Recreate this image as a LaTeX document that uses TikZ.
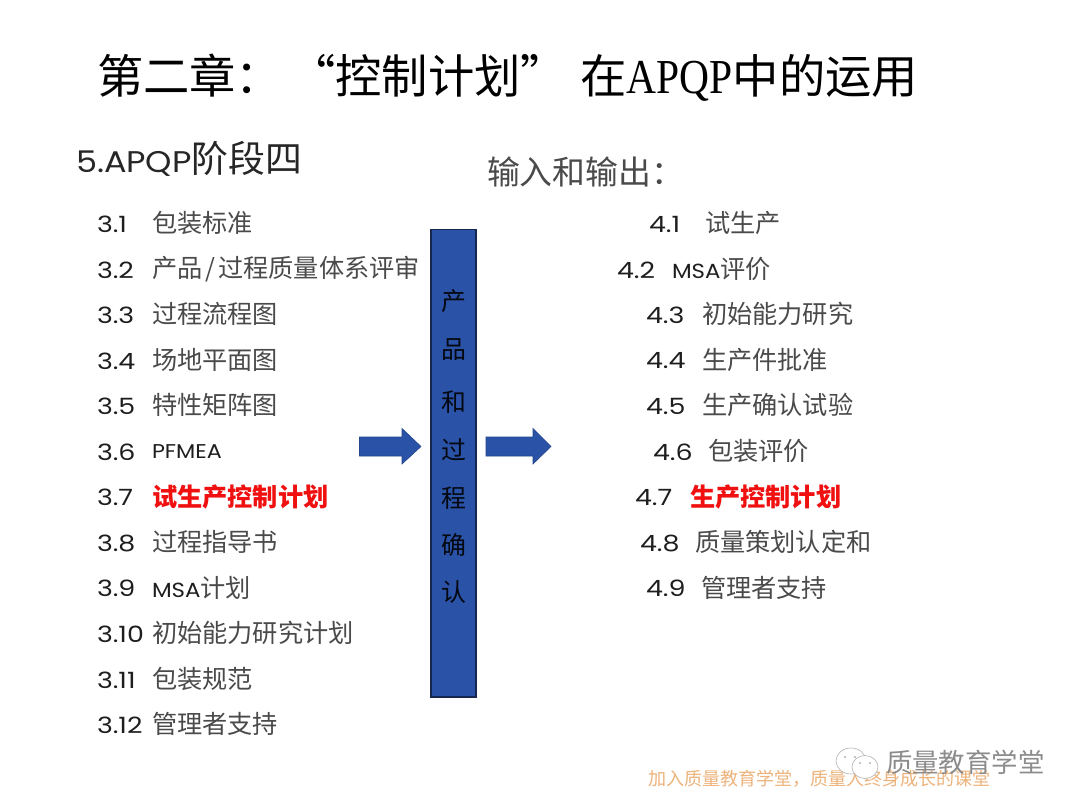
\documentclass[tikz,border=0pt]{standalone}
\usepackage{fontspec}
\setmainfont{Poppins}
\newfontfamily\cjk{Noto Sans CJK SC}
\newfontfamily\lat[FakeStretch=1.12]{Poppins}
\newfontfamily\numf[FakeStretch=1.2]{Poppins}
\newfontfamily\titlelat[FakeStretch=.85]{Liberation Serif}
\definecolor{ink}{HTML}{4A4A4A}
\definecolor{numink}{HTML}{1E1E1E}
\definecolor{barblue}{HTML}{2A52A6}
\definecolor{barline}{HTML}{16284F}
\definecolor{redtxt}{HTML}{F01010}
\definecolor{orangetxt}{HTML}{EDB37C}
\newcommand{\fs}[1]{\fontsize{#1}{#1}\selectfont}
\tikzset{
  x=1bp,y=-1bp,
  lbl/.style={anchor=west,inner sep=0pt,outer sep=0pt,text=ink},
  num/.style={lbl,text=numink,font=\numf\fs{22.5}},
  item/.style={lbl,font=\cjk\fs{25.3}},
  reditem/.style={item,text=redtxt,font=\cjk\bfseries\fs{25.3}},
  barch/.style={inner sep=0pt,text=black!80!barline,font=\cjk\fs{25}},
  flow/.style={fill=barblue,draw=barblue!85!black,line width=.6pt},
}
\newcommand{\msa}{{\color{numink}\lat\fs{20.5}MSA}}
\begin{document}
\begin{tikzpicture}
\useasboundingbox (0,0) rectangle (1080,810);
\fill[white] (0,0) rectangle (1080,810);
\node[lbl,text=black,font=\cjk\fs{46.5}] (title) at (97,78) {第二章：\hspace{7bp}“控制计划”\hspace{13bp}在{\titlelat\fs{49}APQP}中的运用};
\node[lbl,text=black!85,font=\cjk\fs{37}] (sub) at (76,159) {{\lat\fs{30}5.APQP}阶段四};
\node[lbl,font=\cjk\fs{33}] (io) at (487,172) {输入和输出：};
% left list
\node[num] (a1) at (97,224) {3.1};   \node[item] (at1) at (152,223) {包装标准};
\node[num] (a2) at (97,270) {3.2};   \node[item] (at2) at (152,269) {产品\hspace{3bp}/\hspace{3bp}过程质量体系评审};
\node[num] (a3) at (97,315) {3.3};   \node[item] (at3) at (152,314) {过程流程图};
\node[num] (a4) at (97,361) {3.4};   \node[item] (at4) at (152,360) {场地平面图};
\node[num] (a5) at (97,406) {3.5};   \node[item] (at5) at (152,405) {特性矩阵图};
\node[num] (a6) at (97,452) {3.6};   \node[item] (at6) at (152,452) {{\color{numink}\lat\fs{20}PFMEA}};
\node[num] (a7) at (97,497) {3.7};   \node[reditem] (at7) at (152,497) {试生产控制计划};
\node[num] (a8) at (97,543) {3.8};   \node[item] (at8) at (152,542) {过程指导书};
\node[num] (a9) at (97,588) {3.9};   \node[item] (at9) at (152,588) {\msa 计划};
\node[num] (a10) at (97,634) {3.10}; \node[item] (at10) at (152,633) {初始能力研究计划};
\node[num] (a11) at (97,680) {3.11}; \node[item] (at11) at (152,679) {包装规范};
\node[num] (a12) at (97,725) {3.12}; \node[item] (at12) at (152,724) {管理者支持};
% right list
\node[num] (b1) at (649,224) {4.1};  \node[item] (bt1) at (705,223) {试生产};
\node[num] (b2) at (617,270) {4.2};  \node[item] (bt2) at (672,269) {\msa 评价};
\node[num] (b3) at (646,315) {4.3};  \node[item] (bt3) at (702,314) {初始能力研究};
\node[num] (b4) at (646,361) {4.4};  \node[item] (bt4) at (702,360) {生产件批准};
\node[num] (b5) at (646,406) {4.5};  \node[item] (bt5) at (702,405) {生产确认试验};
\node[num] (b6) at (653,452) {4.6};  \node[item] (bt6) at (708,451) {包装评价};
\node[num] (b7) at (635,497) {4.7};  \node[reditem] (bt7) at (690,497) {生产控制计划};
\node[num] (b8) at (640,543) {4.8};  \node[item] (bt8) at (695,542) {质量策划认定和};
\node[num] (b9) at (646,588) {4.9};  \node[item] (bt9) at (701,588) {管理者支持};
% central bar
\draw[fill=barblue,draw=barline,line width=1.3pt] (431,229.5) rectangle (476,697);
\node[barch] (c1) at (454,301) {产};
\node[barch] (c2) at (454,350) {品};
\node[barch] (c3) at (454,402) {和};
\node[barch] (c4) at (454,450) {过};
\node[barch] (c5) at (454,498) {程};
\node[barch] (c6) at (454,545) {确};
\node[barch] (c7) at (454,592) {认};
% block arrows
\draw[flow] (359.5,437) -- (402,437) -- (402,428.5) -- (421,446.5) -- (402,464) -- (402,456) -- (359.5,456) -- cycle;
\draw[flow] (486,437) -- (533,437) -- (533,428.5) -- (551,446.5) -- (533,464) -- (533,456) -- (486,456) -- cycle;
% footer
\node[lbl,font=\cjk\fs{18.1},text=orangetxt] (foot) at (648,779) {加入质量教育学堂，质量人终身成长的课堂};
% watermark
\draw[gray!60,fill=white,line width=.6pt] (851,761) ellipse (15 and 13);
\fill[gray!60] (845,757) circle (1.1) (855,757) circle (1.1);
\draw[gray!60,fill=white,line width=.6pt] (865,767) ellipse (13 and 11.5);
\fill[gray!60] (860,763) circle (1.1) (870,763) circle (1.1);
\node[lbl,font=\cjk\fs{26.5},text=gray!90] (wm) at (886,762) {质量教育学堂};
\end{tikzpicture}
\end{document}
